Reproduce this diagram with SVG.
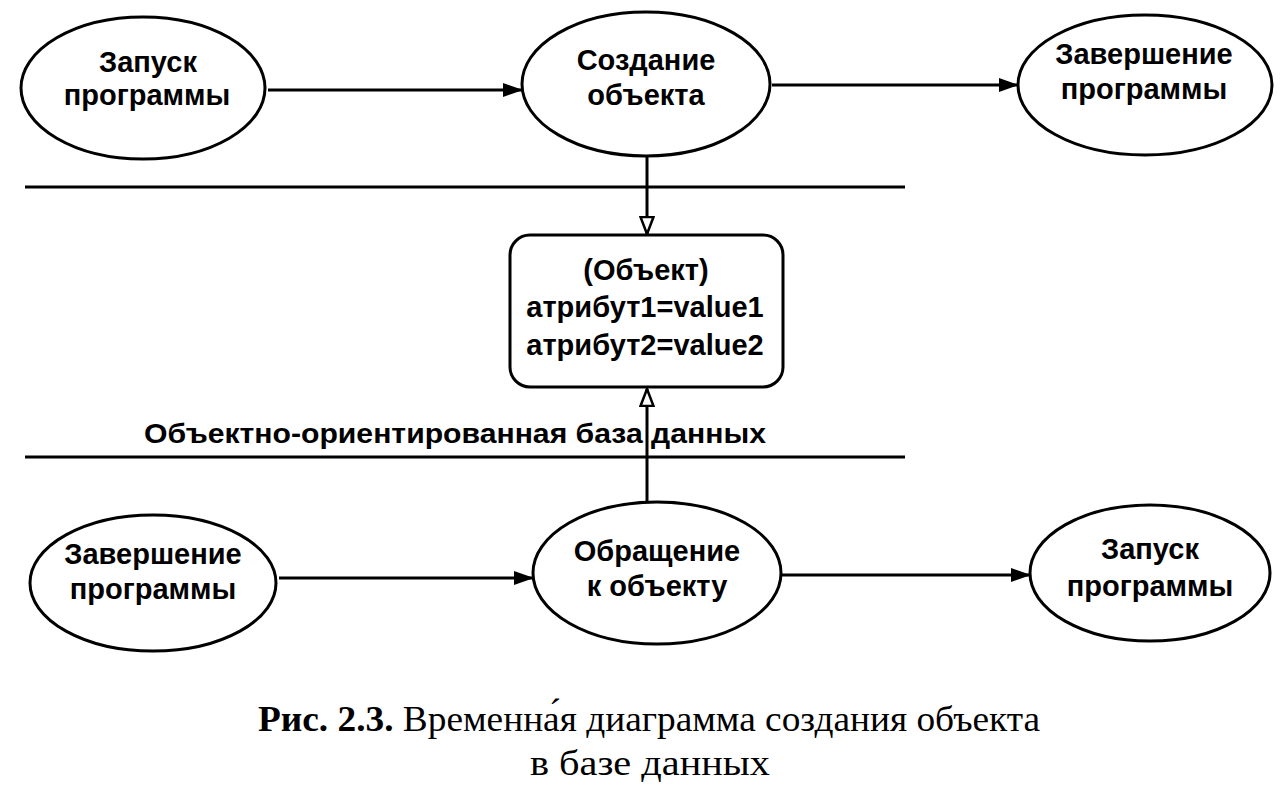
<svg xmlns="http://www.w3.org/2000/svg" width="1288" height="788" viewBox="0 0 1288 788">
<style>
.n{fill:#fff;stroke:#000;stroke-width:3}
.t{font-family:"Liberation Sans",Arial,sans-serif;font-size:29px;font-weight:bold;text-anchor:middle;fill:#000}
.c{stroke:#000;stroke-width:3;fill:none}
.cap{font-family:"Liberation Serif","Times New Roman",serif;font-size:36px;text-anchor:middle;fill:#000}
</style>
<defs>
<marker id="af" markerWidth="20" markerHeight="14" refX="19" refY="7" orient="auto" markerUnits="userSpaceOnUse"><path d="M0,0 L20,7 L0,14 Z" fill="#000"/></marker>
<marker id="ah" markerWidth="20" markerHeight="16" refX="18" refY="8" orient="auto" markerUnits="userSpaceOnUse"><path d="M1,1.5 L18,8 L1,14.5 Z" fill="#fff" stroke="#000" stroke-width="2.5"/></marker>
</defs>
<rect width="1288" height="788" fill="#fff"/>
<g id="connectors">
<line class="c" x1="25" y1="187" x2="905" y2="187"/>
<line class="c" x1="25" y1="457" x2="905" y2="457"/>
<line class="c" x1="268" y1="90" x2="522" y2="90" marker-end="url(#af)"/>
<line class="c" x1="772" y1="85" x2="1018" y2="85" marker-end="url(#af)"/>
<line class="c" x1="647" y1="155" x2="647" y2="234" marker-end="url(#ah)"/>
<line class="c" x1="647" y1="501" x2="647" y2="389" marker-end="url(#ah)"/>
<line class="c" x1="279" y1="578" x2="533" y2="578" marker-end="url(#af)"/>
<line class="c" x1="782" y1="575" x2="1030" y2="575" marker-end="url(#af)"/>
</g>
<g id="n1"><ellipse class="n" cx="143" cy="88" rx="122" ry="71"/><text class="t" x="148" y="72">Запуск</text><text class="t" x="147" y="105">программы</text></g>
<g id="n2"><ellipse class="n" cx="646" cy="84" rx="124" ry="72"/><text class="t" x="646" y="70">Создание</text><text class="t" x="646" y="105">объекта</text></g>
<g id="n3"><ellipse class="n" cx="1145" cy="85" rx="127" ry="70"/><text class="t" x="1144" y="64">Завершение</text><text class="t" x="1144" y="99">программы</text></g>
<g id="obj"><rect class="n" x="510" y="235" width="273" height="152" rx="20"/><text class="t" x="646" y="280">(Объект)</text><text class="t" x="645" y="317">атрибут1=value1</text><text class="t" x="645" y="355">атрибут2=value2</text></g>
<g id="lbl"><text class="t" x="455" y="443" style="font-size:28px" textLength="622" lengthAdjust="spacingAndGlyphs">Объектно-ориентированная база данных</text></g>
<g id="n4"><ellipse class="n" cx="153" cy="583" rx="123" ry="68"/><text class="t" x="153" y="564">Завершение</text><text class="t" x="153" y="599">программы</text></g>
<g id="n5"><ellipse class="n" cx="657" cy="573" rx="124" ry="71"/><text class="t" x="657" y="561">Обращение</text><text class="t" x="657" y="596">к объекту</text></g>
<g id="n6"><ellipse class="n" cx="1150" cy="573" rx="120" ry="68"/><text class="t" x="1150" y="559">Запуск</text><text class="t" x="1150" y="596">программы</text></g>
<g id="caption"><text class="cap" x="649" y="731" textLength="782" lengthAdjust="spacingAndGlyphs"><tspan font-weight="bold">Рис. 2.3.</tspan> Временна́я диаграмма создания объекта</text><text class="cap" x="650" y="775" textLength="240" lengthAdjust="spacingAndGlyphs">в базе данных</text></g>
</svg>
